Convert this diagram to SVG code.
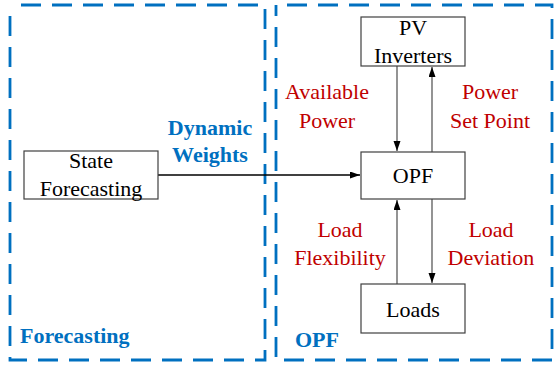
<svg xmlns="http://www.w3.org/2000/svg" width="555" height="368" viewBox="0 0 555 368">
<style>
.grp{fill:none;stroke:#0070C0;stroke-width:2.8;stroke-dasharray:20 11;stroke-dashoffset:20}
.box{fill:#fff;stroke:#404040;stroke-width:1.2}
.t{fill:#000;text-anchor:middle}
.r{fill:#C00000;text-anchor:middle}
.b{font-weight:bold;fill:#0070C0}
.c{fill:none;stroke:#666;stroke-width:1.4;marker-end:url(#ah)}
</style>
<defs>
<marker id="ah" markerWidth="11" markerHeight="8" refX="10" refY="3.5" orient="auto" markerUnits="userSpaceOnUse">
<path d="M0,0 L10,3.5 L0,7 Z" fill="#000"/>
</marker>
</defs>
<rect x="0" y="0" width="555" height="368" fill="#fff"/>
<g font-family="Liberation Serif, Times New Roman, serif" font-size="22">
<g id="forecasting-group">
<rect class="grp" x="10" y="5" width="255" height="355"/>
<text class="b" x="20" y="343">Forecasting</text>
</g>
<g id="opf-group">
<rect class="grp" x="276" y="5" width="276" height="355"/>
<text class="b" x="295" y="347">OPF</text>
</g>
<g id="connectors">
<line class="c" x1="158" y1="175" x2="360" y2="175" style="stroke:#000"/>
<line class="c" x1="397" y1="66" x2="397" y2="151"/>
<line class="c" x1="432" y1="152" x2="432" y2="67"/>
<line class="c" x1="397" y1="284" x2="397" y2="200"/>
<line class="c" x1="432" y1="199" x2="432" y2="283"/>
<text class="b" x="210" y="135" text-anchor="middle">Dynamic</text>
<text class="b" x="210" y="162" text-anchor="middle">Weights</text>
<text class="r" x="327" y="99">Available</text>
<text class="r" x="327" y="128">Power</text>
<text class="r" x="490" y="99">Power</text>
<text class="r" x="490" y="128">Set Point</text>
<text class="r" x="340" y="237">Load</text>
<text class="r" x="340" y="265">Flexibility</text>
<text class="r" x="491" y="237">Load</text>
<text class="r" x="491" y="265">Deviation</text>
</g>
<g id="state-forecasting">
<rect class="box" x="24" y="151" width="134" height="48"/>
<text class="t" x="91" y="168">State</text>
<text class="t" x="91" y="196">Forecasting</text>
</g>
<g id="pv-inverters">
<rect class="box" x="361" y="17" width="104" height="49"/>
<text class="t" x="413" y="35">PV</text>
<text class="t" x="413" y="63">Inverters</text>
</g>
<g id="opf">
<rect class="box" x="361" y="152" width="104" height="47"/>
<text class="t" x="413" y="183">OPF</text>
</g>
<g id="loads">
<rect class="box" x="361" y="284" width="104" height="49"/>
<text class="t" x="413" y="317">Loads</text>
</g>
</g>
</svg>
